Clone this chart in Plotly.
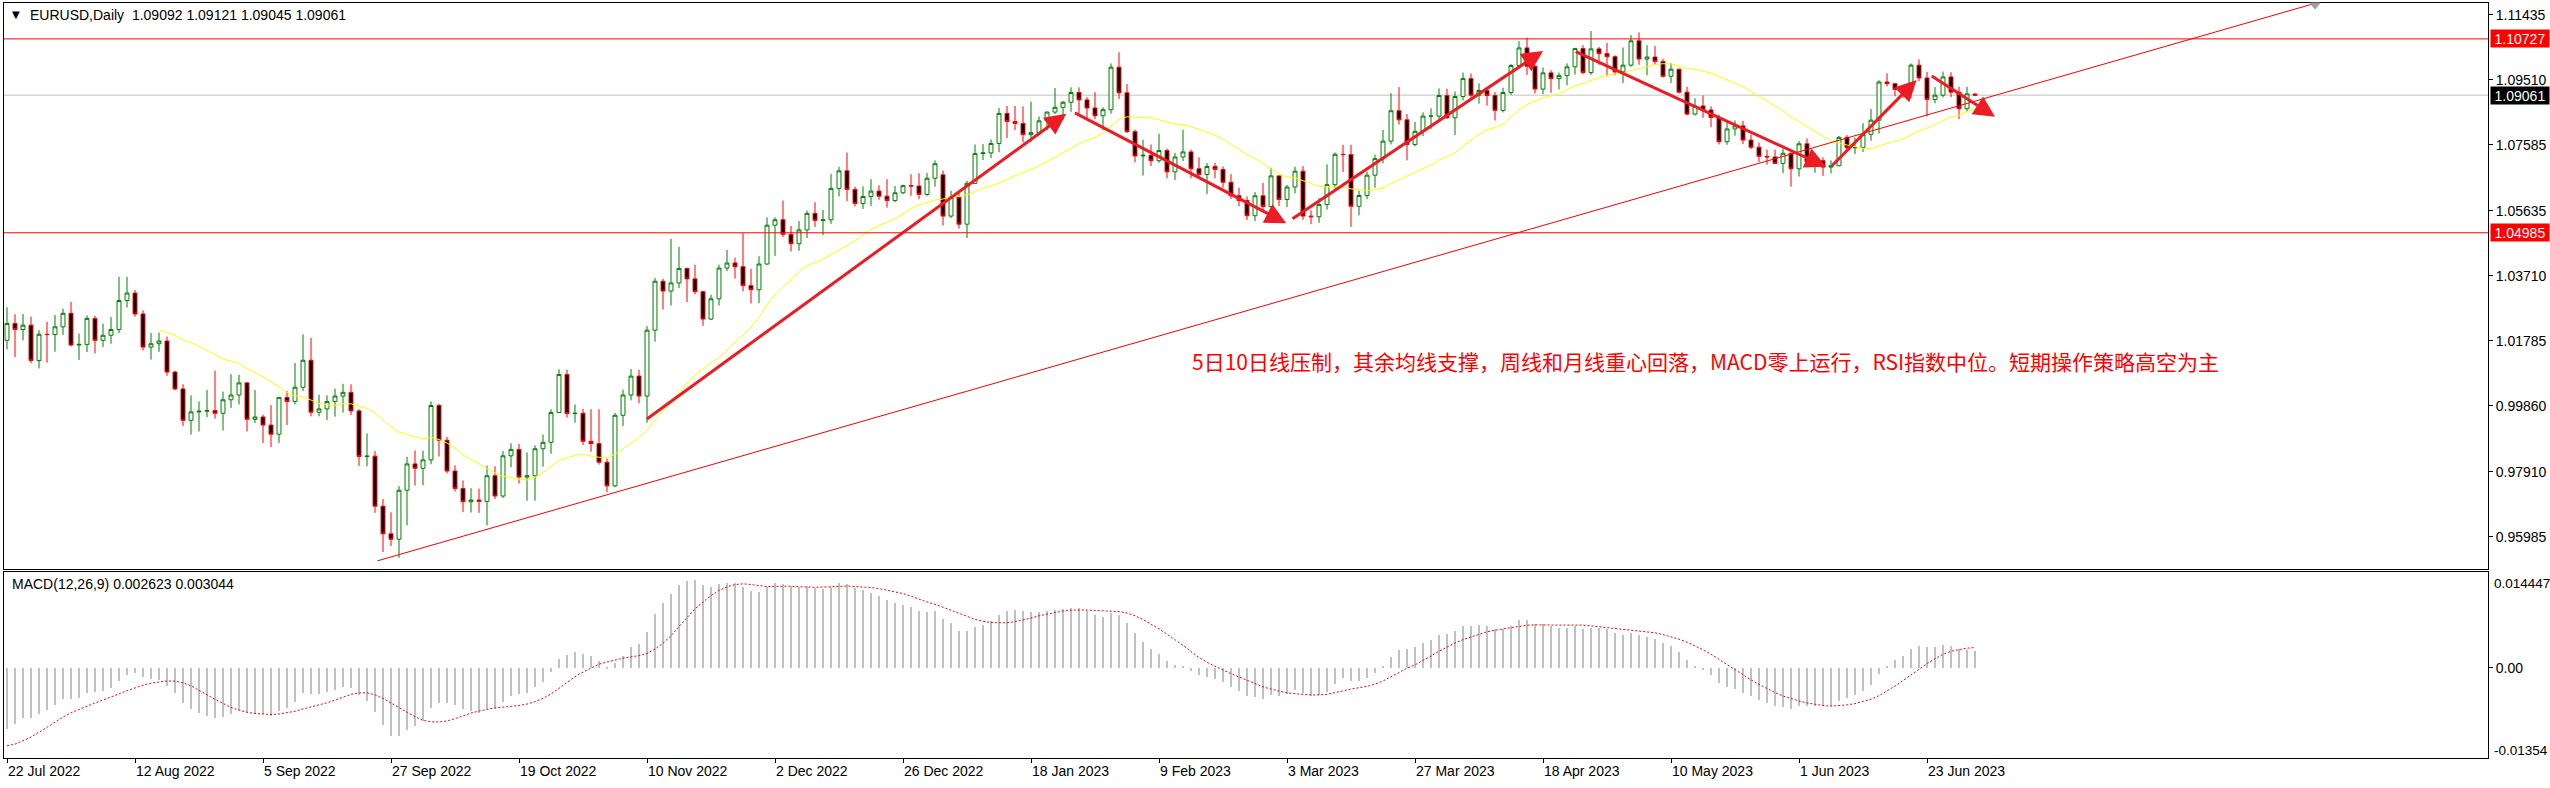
import plotly.graph_objects as go

# ---------------- data ----------------
open_ = [
    1.0180, 1.0230, 1.0212, 1.0225, 1.0120, 1.0198, 1.0197,
    1.0220, 1.0260, 1.0166, 1.0168, 1.0245,
    1.0180, 1.0195, 1.0212, 1.0298, 1.0320,
    1.0258, 1.0160, 1.0170, 1.0178, 1.0086,
    1.0036, 0.9943, 0.9968, 0.9970, 0.9972,
    0.9964, 1.0004, 1.0018, 1.0054, 0.9946,
    0.9953, 0.9929, 0.9902, 1.0011, 0.9999,
    1.0041, 1.0121, 0.9967, 0.9977, 0.9999,
    1.0015, 1.0026, 0.9971, 0.9836, 0.9837,
    0.9689, 0.9607, 0.9591, 0.9736, 0.9814,
    0.9801, 0.9826, 0.9987, 0.9884, 0.9793,
    0.9741, 0.9702, 0.9707, 0.9703, 0.9779,
    0.9719, 0.9838, 0.9857, 0.9775, 0.9779,
    0.9859, 0.9878, 0.9966, 1.0079, 0.9963,
    0.9964, 0.9881, 0.9874, 0.9819, 0.9749,
    0.9958, 1.0018, 1.0074, 1.0015, 1.0210,
    1.0355, 1.0326, 1.0350, 1.0393, 1.0362,
    1.0324, 1.0243, 1.0303, 1.0394, 1.0409,
    1.0398, 1.0342, 1.0330, 1.0406, 1.0521,
    1.0537, 1.0494, 1.0466, 1.0507, 1.0556,
    1.0535, 1.0537, 1.0630, 1.0682, 1.0627,
    1.0585, 1.0606, 1.0622, 1.0607, 1.0594,
    1.0617, 1.0638, 1.0637, 1.0612, 1.0660,
    1.0670, 1.0548, 1.0604, 1.0524,
    1.0645, 1.0733, 1.0735, 1.0763, 1.0852,
    1.0828, 1.0822, 1.0789, 1.0795, 1.0830,
    1.0856, 1.0870, 1.0885, 1.0914, 1.0892,
    1.0868, 1.0845, 1.0863, 1.0989, 1.0913,
    1.0798, 1.0726, 1.0728, 1.0712, 1.0742,
    1.0679, 1.0723, 1.0738, 1.0688, 1.0671,
    1.0695, 1.0686, 1.0648, 1.0608, 1.0594,
    1.0549, 1.0608, 1.0576, 1.0667, 1.0597,
    1.0634, 1.0681, 1.0548, 1.0546, 1.0582,
    1.0641, 1.0731, 1.0730, 1.0577, 1.0609,
    1.0669, 1.0718, 1.0770, 1.0860, 1.0833,
    1.0760, 1.0799, 1.0844, 1.0844, 1.0905,
    1.0839, 1.0902, 1.0955, 1.0906, 1.0920,
    1.0905, 1.0861, 1.0914, 1.0994, 1.1046,
    1.0992, 1.0924, 1.0972, 1.0955, 1.0964,
    1.0990, 1.1044, 1.0973, 1.1043, 1.1029,
    1.1020, 1.0975, 1.0995, 1.1067, 1.1013,
    1.1019, 1.1006, 1.0962, 1.0983, 1.0915,
    1.0850, 1.0874, 1.0862, 1.0840, 1.0768,
    1.0806, 1.0815, 1.0773, 1.0752, 1.0725,
    1.0723, 1.0704, 1.0734, 1.0688, 1.0762,
    1.0708, 1.0712, 1.0693, 1.0697, 1.0781,
    1.0750, 1.0751, 1.0790, 1.0832, 1.0945,
    1.0940, 1.0923, 1.0919, 1.0995, 1.0957,
    1.0893, 1.0906, 1.0960, 1.0915, 1.0866,
    1.09092,
]
high = [
    1.0278, 1.0257, 1.0258, 1.0250, 1.0210, 1.0235, 1.0255,
    1.0274, 1.0294, 1.0200, 1.0254, 1.0253,
    1.0229, 1.0249, 1.0368, 1.0368, 1.0329,
    1.0269, 1.0202, 1.0203, 1.0191, 1.0090,
    1.0050, 1.0017, 0.9999, 1.0033, 1.0090,
    1.0028, 1.0080, 1.0078, 1.0056, 1.0033,
    0.9960, 0.9988, 1.0011, 1.0030, 1.0113,
    1.0198, 1.0187, 1.0019, 1.0017, 1.0037,
    1.0051, 1.0050, 0.9976, 0.9904, 0.9852,
    0.9710, 0.9671, 0.9748, 0.9835, 0.9854,
    0.9853, 0.9999, 0.9992, 0.9894, 0.9810,
    0.9765, 0.9742, 0.9741, 0.9809, 0.9807,
    0.9852, 0.9875, 0.9873, 0.9848, 0.9869,
    0.9901, 0.9976, 1.0094, 1.0093, 0.9990,
    0.9977, 0.9976, 0.9976, 0.9830, 0.9965,
    1.0034, 1.0095, 1.0093, 1.0222, 1.0365,
    1.0362, 1.0481, 1.0457, 1.0395, 1.0404,
    1.0327, 1.0315, 1.0404, 1.0448, 1.0425,
    1.0497, 1.0392, 1.0429, 1.0544, 1.0544,
    1.0594, 1.0519, 1.0533, 1.0564, 1.0589,
    1.0566, 1.0673, 1.0694, 1.0736, 1.0635,
    1.0636, 1.0657, 1.0639, 1.0657, 1.0637,
    1.0641, 1.0672, 1.0675, 1.0676, 1.0713,
    1.0683, 1.0623, 1.0618, 1.0652,
    1.0760, 1.0761, 1.0775, 1.0868, 1.0874,
    1.0874, 1.0873, 1.0887, 1.0843, 1.0858,
    1.0927, 1.0889, 1.0929, 1.0929, 1.0900,
    1.0915, 1.0870, 1.1000, 1.1033, 1.0939,
    1.0804, 1.0774, 1.0760, 1.0792, 1.0748,
    1.0735, 1.0804, 1.0745, 1.0722, 1.0705,
    1.0705, 1.0695, 1.0672, 1.0632, 1.0606,
    1.0619, 1.0646, 1.0691, 1.0668, 1.0640,
    1.0694, 1.0696, 1.0565, 1.0601, 1.0701,
    1.0736, 1.0759, 1.0759, 1.0623, 1.0680,
    1.0730, 1.0803, 1.0912, 1.0930, 1.0850,
    1.0827, 1.0855, 1.0867, 1.0926, 1.0925,
    1.0917, 1.0973, 1.0970, 1.0941, 1.0925,
    1.0915, 1.0928, 1.0998, 1.1066, 1.1076,
    1.0995, 1.0988, 1.0980, 1.0973, 1.1000,
    1.1046, 1.1054, 1.1096, 1.1049, 1.1061,
    1.1024, 1.1047, 1.1084, 1.1092, 1.1054,
    1.1052, 1.1014, 1.1001, 1.0984, 1.0931,
    1.0897, 1.0905, 1.0873, 1.0848, 1.0828,
    1.0831, 1.0830, 1.0790, 1.0766, 1.0745,
    1.0745, 1.0748, 1.0736, 1.0770, 1.0778,
    1.0734, 1.0722, 1.0713, 1.0785, 1.0788,
    1.0781, 1.0823, 1.0865, 1.0950, 1.0971,
    1.0940, 1.0932, 1.1000, 1.1012, 1.0975,
    1.0930, 1.0976, 1.0974, 1.0931, 1.0931,
    1.09121,
]
low = [
    1.0153, 1.0130, 1.0180, 1.0112, 1.0097, 1.0114, 1.0146,
    1.0196, 1.0162, 1.0122, 1.0145, 1.0141,
    1.0160, 1.0170, 1.0201, 1.0277, 1.0250,
    1.0150, 1.0123, 1.0146, 1.0075, 1.0032,
    0.9926, 0.9901, 0.9910, 0.9952, 0.9948,
    0.9913, 0.9980, 0.9990, 0.9910, 0.9935,
    0.9876, 0.9864, 0.9876, 0.9929, 0.9990,
    1.0030, 0.9955, 0.9955, 0.9944, 0.9954,
    0.9966, 0.9959, 0.9808, 0.9807, 0.9669,
    0.9553, 0.9571, 0.9536, 0.9632, 0.9750,
    0.9751, 0.9813, 0.9836, 0.9786, 0.9732,
    0.9671, 0.9670, 0.9669, 0.9632, 0.9710,
    0.9713, 0.9804, 0.9756, 0.9705, 0.9705,
    0.9806, 0.9844, 0.9965, 0.9951, 0.9936,
    0.9870, 0.9850, 0.9812, 0.9730, 0.9745,
    0.9926, 1.0002, 0.9994, 0.9936, 1.0176,
    1.0271, 1.0283, 1.0335, 1.0293, 1.0316,
    1.0223, 1.0240, 1.0283, 1.0385, 1.0363,
    1.0325, 1.0289, 1.0290, 1.0403, 1.0430,
    1.0486, 1.0443, 1.0445, 1.0483, 1.0516,
    1.0492, 1.0525, 1.0606, 1.0592, 1.0577,
    1.0569, 1.0578, 1.0596, 1.0573, 1.0589,
    1.0613, 1.0608, 1.0598, 1.0608, 1.0635,
    1.0520, 1.0542, 1.0511, 1.0483,
    1.0643, 1.0714, 1.0720, 1.0737, 1.0779,
    1.0803, 1.0766, 1.0768, 1.0788, 1.0802,
    1.0850, 1.0833, 1.0857, 1.0845, 1.0837,
    1.0835, 1.0803, 1.0851, 1.0895, 1.0794,
    1.0707, 1.0668, 1.0696, 1.0706, 1.0660,
    1.0655, 1.0711, 1.0660, 1.0660, 1.0613,
    1.0660, 1.0632, 1.0599, 1.0577, 1.0536,
    1.0533, 1.0562, 1.0572, 1.0578, 1.0575,
    1.0615, 1.0537, 1.0524, 1.0528, 1.0567,
    1.0630, 1.0678, 1.0516, 1.0550, 1.0598,
    1.0632, 1.0704, 1.0760, 1.0819, 1.0713,
    1.0755, 1.0785, 1.0806, 1.0835, 1.0836,
    1.0788, 1.0891, 1.0893, 1.0881, 1.0875,
    1.0831, 1.0855, 1.0907, 1.0985, 1.0966,
    1.0911, 1.0909, 1.0913, 1.0923, 1.0935,
    1.0967, 1.0968, 1.0966, 1.0996, 1.0962,
    1.0965, 1.0942, 1.0990, 1.0996, 1.0965,
    1.0996, 1.0958, 1.0942, 1.0911, 1.0846,
    1.0846, 1.0839, 1.0811, 1.0760, 1.0759,
    1.0786, 1.0761, 1.0746, 1.0708, 1.0700,
    1.0702, 1.0675, 1.0635, 1.0665, 1.0707,
    1.0676, 1.0667, 1.0674, 1.0695, 1.0739,
    1.0732, 1.0738, 1.0771, 1.0792, 1.0932,
    1.0903, 1.0898, 1.0897, 1.0947, 1.0843,
    1.0882, 1.0899, 1.0900, 1.0835, 1.0857,
    1.09045,
]
close = [
    1.0230, 1.0212, 1.0225, 1.0120, 1.0198, 1.0197, 1.0220,
    1.0260, 1.0166, 1.0168, 1.0245, 1.0180,
    1.0195, 1.0212, 1.0298, 1.0320, 1.0258,
    1.0160, 1.0170, 1.0178, 1.0086, 1.0036,
    0.9943, 0.9968, 0.9970, 0.9972, 0.9964,
    1.0004, 1.0018, 1.0054, 0.9946, 0.9953,
    0.9929, 0.9902, 1.0011, 0.9999, 1.0041,
    1.0121, 0.9967, 0.9977, 0.9999, 1.0015,
    1.0026, 0.9971, 0.9836, 0.9837, 0.9689,
    0.9607, 0.9591, 0.9736, 0.9814, 0.9801,
    0.9826, 0.9987, 0.9884, 0.9793, 0.9741,
    0.9702, 0.9707, 0.9703, 0.9779, 0.9719,
    0.9838, 0.9857, 0.9775, 0.9779, 0.9859,
    0.9878, 0.9966, 1.0079, 0.9963, 0.9964,
    0.9881, 0.9874, 0.9819, 0.9749, 0.9958,
    1.0018, 1.0074, 1.0015, 1.0210, 1.0355,
    1.0326, 1.0350, 1.0393, 1.0362, 1.0324,
    1.0243, 1.0303, 1.0394, 1.0409, 1.0398,
    1.0342, 1.0330, 1.0406, 1.0521, 1.0537,
    1.0494, 1.0466, 1.0507, 1.0556, 1.0535,
    1.0537, 1.0630, 1.0682, 1.0627, 1.0585,
    1.0606, 1.0622, 1.0607, 1.0594, 1.0617,
    1.0638, 1.0637, 1.0612, 1.0660, 1.0703,
    1.0548, 1.0604, 1.0524, 1.0645,
    1.0733, 1.0735, 1.0763, 1.0852, 1.0828,
    1.0822, 1.0789, 1.0795, 1.0830, 1.0856,
    1.0870, 1.0885, 1.0914, 1.0892, 1.0868,
    1.0845, 1.0863, 1.0989, 1.0913, 1.0798,
    1.0726, 1.0728, 1.0712, 1.0742, 1.0679,
    1.0723, 1.0738, 1.0688, 1.0671, 1.0695,
    1.0686, 1.0648, 1.0608, 1.0594, 1.0549,
    1.0608, 1.0576, 1.0667, 1.0597, 1.0634,
    1.0681, 1.0548, 1.0546, 1.0582, 1.0641,
    1.0731, 1.0730, 1.0577, 1.0609, 1.0669,
    1.0718, 1.0770, 1.0860, 1.0833, 1.0760,
    1.0799, 1.0844, 1.0844, 1.0905, 1.0839,
    1.0902, 1.0955, 1.0906, 1.0920, 1.0905,
    1.0861, 1.0914, 1.0994, 1.1046, 1.0992,
    1.0924, 1.0972, 1.0955, 1.0964, 1.0990,
    1.1044, 1.0973, 1.1043, 1.1029, 1.1020,
    1.0975, 1.0995, 1.1067, 1.1013, 1.1019,
    1.1006, 1.0962, 1.0983, 1.0915, 1.0850,
    1.0874, 1.0862, 1.0840, 1.0768, 1.0806,
    1.0815, 1.0773, 1.0752, 1.0725, 1.0723,
    1.0704, 1.0734, 1.0688, 1.0762, 1.0708,
    1.0712, 1.0693, 1.0697, 1.0781, 1.0750,
    1.0751, 1.0790, 1.0832, 1.0945, 1.0940,
    1.0923, 1.0919, 1.0995, 1.0957, 1.0893,
    1.0906, 1.0960, 1.0915, 1.0866, 1.0910,
    1.09061,
]
bars = list(range(len(close)))

# MACD(12,26,9) state just before the first visible bar
ema12_seed = 1.0181
ema26_seed = 1.0285
macd_prev = [-0.0106, -0.0120, -0.0126, -0.0133, -0.0133, -0.0126, -0.0113, -0.0104]

# tick labels
x_tick_bars = [0, 16, 32, 48, 64, 80, 96, 112, 128, 144, 160, 176, 192, 208, 224, 240]
x_tick_text = ['22 Jul 2022', '12 Aug 2022', '5 Sep 2022', '27 Sep 2022', '19 Oct 2022',
               '10 Nov 2022', '2 Dec 2022', '26 Dec 2022', '18 Jan 2023', '9 Feb 2023',
               '3 Mar 2023', '27 Mar 2023', '18 Apr 2023', '10 May 2023', '1 Jun 2023',
               '23 Jun 2023']
y_tick_vals = [1.11435, 1.09510, 1.07585, 1.05635, 1.03710, 1.01785, 0.99860, 0.97910, 0.95985]
y_tick_text = ['1.11435', '1.09510', '1.07585', '1.05635', '1.03710', '1.01785', '0.99860',
               '0.97910', '0.95985']
macd_max_value, macd_min_value = 0.014447, -0.013547
macd_max_text, macd_min_text = '0.014447', '-0.01354'

# horizontal levels
resist_level = 1.10727
support_level = 1.04985
bid_level = 1.09061

# trend line and arrows (bar index, price)
trend_pts = [(46.3, 0.9527), (288.5, 1.1178)]
arrows = [  # (tail bar, tail price, head bar, head price)
    (79.8, 0.9944, 132.4, 1.0851),
    (133.3, 1.0856, 159.9, 1.0527),
    (160.5, 1.0537, 192.0, 1.1037),
    (195.9, 1.1037, 227.4, 1.0694),
    (228.0, 1.0694, 238.7, 1.0951),
    (240.4, 1.0966, 248.5, 1.0842),
]
comment = '5日10日线压制，其余均线支撑，周线和月线重心回落，MACD零上运行，RSI指数中位。短期操作策略高空为主'

# ---------------- indicators ----------------
n = len(close)
ma20 = [None] * 19 + [sum(close[i - 19:i + 1]) / 20 for i in range(19, n)]
a12, a26 = 2 / 13, 2 / 27
e12, e26 = ema12_seed, ema26_seed
macd_main = []
for c in close:
    e12 += a12 * (c - e12)
    e26 += a26 * (c - e26)
    macd_main.append(e12 - e26)
allm = macd_prev + macd_main
macd_signal = [sum(allm[i:i + 9]) / 9 for i in range(n)]

# ---------------- layout geometry ----------------
W, H = 2550, 788
ML, MR, MT, MB = 4, 62, 3, 30
PW = W - ML - MR
PH = H - MT - MB


def px_x(px):
    return (px - ML) / PW


def px_y(py):
    return (H - MB - py) / PH


FONT = 'Liberation Sans, Arial, sans-serif'
RED = '#ff0000'
ARROW = '#ED1C24'

fig = go.Figure()
fig.add_trace(go.Candlestick(
    x=bars, open=open_, high=high, low=low, close=close,
    increasing=dict(line=dict(color='#008000', width=1), fillcolor='#ffffff'),
    decreasing=dict(line=dict(color='#ff0000', width=1), fillcolor='#000000'),
    whiskerwidth=0, hoverinfo='skip', xaxis='x', yaxis='y'))
fig.add_trace(go.Scatter(x=bars, y=ma20, mode='lines', line=dict(color='#ffff00', width=1),
                         hoverinfo='skip', xaxis='x', yaxis='y'))
fig.add_trace(go.Bar(x=bars, y=macd_main, width=0.25, marker=dict(color='#c0c0c0', line=dict(width=0)),
                     hoverinfo='skip', xaxis='x2', yaxis='y2'))
fig.add_trace(go.Scatter(x=bars, y=macd_signal, mode='lines',
                         line=dict(color='#ff0000', width=1, dash='2px,2px'),
                         hoverinfo='skip', xaxis='x2', yaxis='y2'))

xr = [(ML - 7) / 8, (W - MR - 7) / 8]
axis_common = dict(showgrid=False, zeroline=False, showline=True, mirror=True,
                   linecolor='#000000', linewidth=1)

shapes = [
    dict(type='line', xref='paper', x0=0, x1=1, yref='y', y0=bid_level, y1=bid_level,
         line=dict(color='#c0c0c0', width=1), layer='below'),
    dict(type='line', xref='paper', x0=0, x1=1, yref='y', y0=resist_level, y1=resist_level,
         line=dict(color=RED, width=1)),
    dict(type='line', xref='paper', x0=0, x1=1, yref='y', y0=support_level, y1=support_level,
         line=dict(color=RED, width=1)),
    dict(type='line', xref='x', yref='y', x0=trend_pts[0][0], y0=trend_pts[0][1],
         x1=trend_pts[1][0], y1=trend_pts[1][1], line=dict(color=RED, width=1)),
    # MT4 chart-shift marker at the top border
    dict(type='path', xref='paper', yref='paper',
         path=f'M {px_x(2310)} {px_y(3)} L {px_x(2320)} {px_y(3)} L {px_x(2315)} {px_y(9)} Z',
         fillcolor='#a0a0a0', line=dict(color='#a0a0a0', width=1)),
]

ann = []
for tb, tp, hb, hp in arrows:
    ann.append(dict(x=hb, y=hp, xref='x', yref='y', ax=tb, ay=tp, axref='x', ayref='y',
                    text='', showarrow=True, arrowhead=2, arrowsize=1.4, arrowwidth=3,
                    arrowcolor=ARROW, standoff=0, startstandoff=0))
ann.append(dict(x=px_x(16), y=px_y(15), xref='paper', yref='paper', text='▼', showarrow=False,
                xanchor='center', yanchor='middle', font=dict(size=10, color='#000000', family='DejaVu Sans')))
ann.append(dict(x=px_x(28), y=px_y(15.5), xref='paper', yref='paper',
                text='EURUSD,Daily \u00a01.09092 1.09121 1.09045 1.09061', showarrow=False,
                xanchor='left', yanchor='middle', font=dict(size=14, color='#000000', family=FONT)))
ann.append(dict(x=px_x(10), y=px_y(584), xref='paper', yref='paper',
                text='MACD(12,26,9) 0.002623 0.003044', showarrow=False,
                xanchor='left', yanchor='middle', font=dict(size=14, color='#000000', family=FONT)))
ann.append(dict(x=px_x(1190), y=px_y(361), xref='paper', yref='paper', text=comment,
                showarrow=False, xanchor='left', yanchor='middle',
                font=dict(size=21, color=RED, family='Noto Sans CJK SC')))
for lvl, bg in [(resist_level, RED), (support_level, RED), (bid_level, '#000000')]:
    ann.append(dict(x=px_x(2490), y=lvl, xref='paper', yref='y', text=f'{lvl:.5f}',
                    showarrow=False, xanchor='left', yanchor='middle', bgcolor=bg,
                    width=56, height=15, borderpad=1, align='center',
                    font=dict(size=14, color='#ffffff', family=FONT)))
ann.append(dict(x=px_x(2492), y=px_y(583), xref='paper', yref='paper', text=macd_max_text,
                showarrow=False, xanchor='left', yanchor='middle',
                font=dict(size=13.5, color='#000000', family=FONT)))
ann.append(dict(x=px_x(2492), y=px_y(750), xref='paper', yref='paper', text=macd_min_text,
                showarrow=False, xanchor='left', yanchor='middle',
                font=dict(size=13.5, color='#000000', family=FONT)))

fig.update_layout(
    width=W, height=H, margin=dict(l=ML, r=MR, t=MT, b=MB),
    paper_bgcolor='#ffffff', plot_bgcolor='#ffffff', showlegend=False,
    font=dict(family=FONT, size=14, color='#000000'),
    xaxis=dict(domain=[0, 1], range=xr, anchor='y', showticklabels=False, ticks='',
               rangeslider=dict(visible=False), **axis_common),
    yaxis=dict(domain=[px_y(569), 1], range=[0.95028, 1.11790], side='right',
               tickvals=y_tick_vals, ticktext=y_tick_text, ticks='outside', ticklen=4,
               tickcolor='#000000', tickfont=dict(size=14, family=FONT), **axis_common),
    xaxis2=dict(domain=[0, 1], range=xr, anchor='y2', matches='x', tickvals=x_tick_bars,
                ticktext=x_tick_text, ticks='outside', ticklen=4, tickcolor='#000000',
                ticklabelposition='outside right', tickfont=dict(size=14, family=FONT),
                **axis_common),
    yaxis2=dict(domain=[0, px_y(572)], range=[macd_min_value, macd_max_value], side='right',
                tickvals=[0], ticktext=['0.00'], ticks='outside', ticklen=4, tickcolor='#000000',
                tickfont=dict(size=14, family=FONT), **axis_common),
    shapes=shapes, annotations=ann, bargap=0,
)

fig.write_html('out.html', config={'displayModeBar': False},
               post_script="document.body.style.margin='0';document.body.style.overflow='hidden';")
